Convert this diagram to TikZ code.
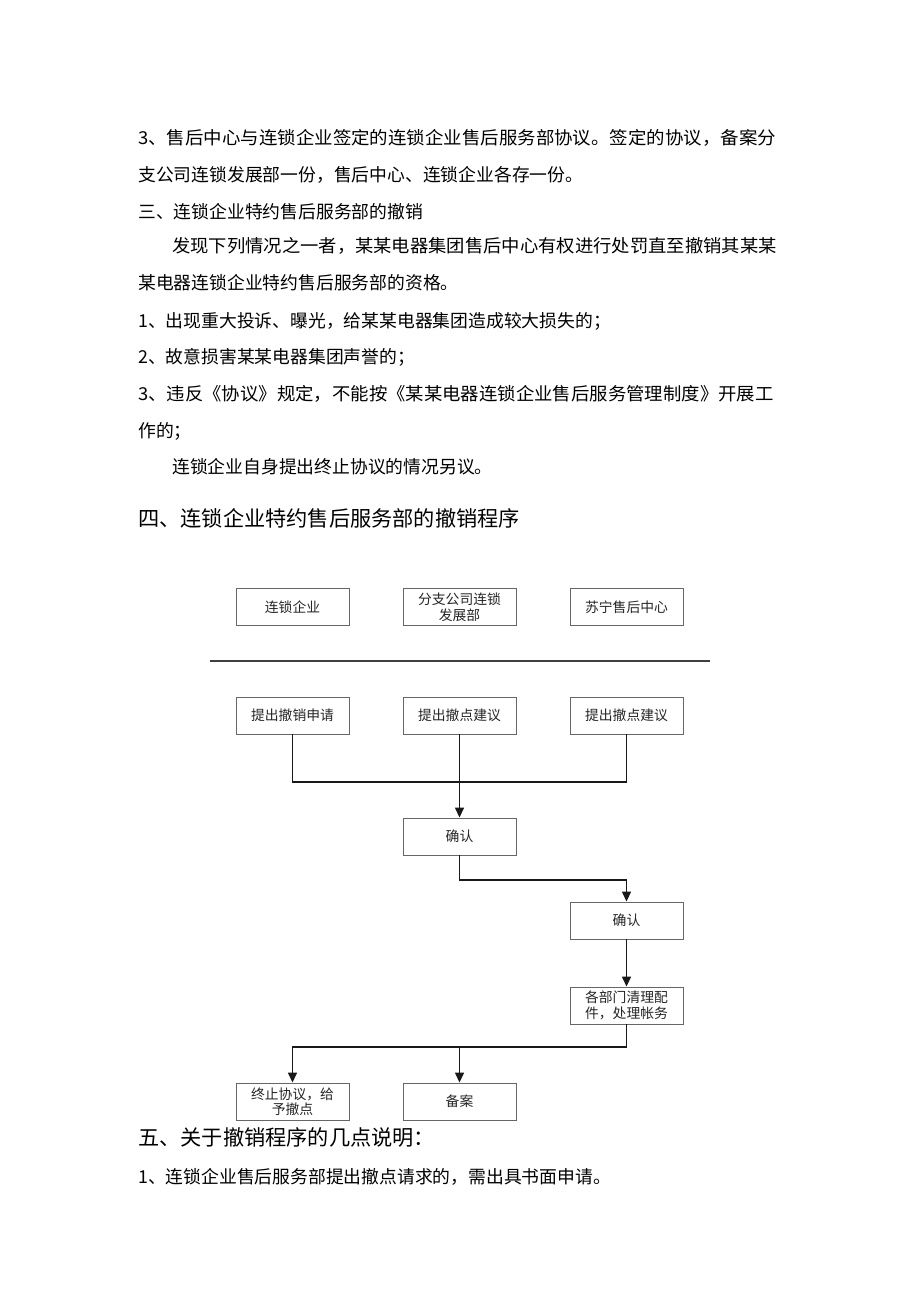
\documentclass[tikz,border=0pt]{standalone}
\usepackage{fontspec}
\usepackage{graphicx}
\newfontfamily\zh{Noto Sans CJK SC}
\usetikzlibrary{arrows.meta}
\begin{document}
\begin{tikzpicture}[x=1pt,y=1pt,
  txt/.style={anchor=west,inner sep=0,font=\zh\fontsize{17.8}{20}\selectfont},
  head/.style={anchor=west,inner sep=0,font=\zh\fontsize{21.2}{24}\selectfont},
  box/.style={draw=black!60,line width=0.9pt,minimum width=113pt,minimum height=37pt,inner sep=1pt,align=center,text=black!85,font=\zh\fontsize{13.8}{15.5}\selectfont},
  conn/.style={line width=1.4pt,draw=black!90},
  arr/.style={conn,-{Triangle[length=10pt,width=9pt]}}]
\fill[white] (0,0) rectangle (920,-1301);
\useasboundingbox (0,0) rectangle (920,-1301);
% text above
\node[txt] (t1) at (138,-138) {\scalebox{1.037}[1]{3、售后中心与连锁企业签定的连锁企业售后服务部协议。签定的协议，备案分}};
\node[txt] (t2) at (138,-175) {支公司连锁发展部一份，售后中心、连锁企业各存一份。};
\node[txt] (t3) at (138,-212) {三、连锁企业特约售后服务部的撤销};
\node[txt] (t4) at (172,-246) {\scalebox{1.029}[1]{发现下列情况之一者，某某电器集团售后中心有权进行处罚直至撤销其某某}};
\node[txt] (t5) at (138,-283) {某电器连锁企业特约售后服务部的资格。};
\node[txt] (t6) at (138,-321) {1、出现重大投诉、曝光，给某某电器集团造成较大损失的；};
\node[txt] (t7) at (138,-357) {2、故意损害某某电器集团声誉的；};
\node[txt] (t8) at (138,-394) {\scalebox{1.033}[1]{3、违反《协议》规定，不能按《某某电器连锁企业售后服务管理制度》开展工}};
\node[txt] (t9) at (138,-431) {作的；};
\node[txt] (t10) at (172,-467) {连锁企业自身提出终止协议的情况另议。};
\node[head] (h4) at (138,-518) {四、连锁企业特约售后服务部的撤销程序};
% diagram
\node[box] (a1) at (292.5,-607) {连锁企业};
\node[box] (a2) at (459.5,-607) {分支公司连锁\\发展部};
\node[box] (a3) at (626.5,-607) {苏宁售后中心};
\coordinate (rl) at (210,-661);
\coordinate (rr) at (710,-661);
\draw[line width=1.8pt,black!75] (rl) -- (rr);
\node[box] (b1) at (292.5,-715.5) {提出撤销申请};
\node[box] (b2) at (459.5,-715.5) {提出撤点建议};
\node[box] (b3) at (626.5,-715.5) {提出撤点建议};
\node[box] (c1) at (459.5,-836.5) {确认};
\node[box] (c2) at (626.5,-920.5) {确认};
\node[box] (d1) at (626.5,-1005.5) {各部门清理配\\件，处理帐务};
\node[box] (e1) at (292.5,-1101.5) {终止协议，给\\予撤点};
\node[box] (e2) at (459.5,-1101.5) {备案};
\coordinate (m1) at (459.5,-782);
\coordinate (m2) at (459.5,-880);
\coordinate (m3) at (459.5,-1047);
\draw[conn] (b1.south) |- (m1) -| (b3.south);
\draw[arr] (b2.south) -- (c1.north);
\draw[arr] (c1.south) -- (m2) -| (c2.north);
\draw[arr] (c2.south) -- (d1.north);
\draw[arr] (d1.south) |- (m3) -| (e1.north);
\draw[arr] (m3) -- (e2.north);
% text below
\node[head] (h5) at (138,-1137) {五、关于撤销程序的几点说明：};
\node[txt] (t11) at (138,-1177) {1、连锁企业售后服务部提出撤点请求的，需出具书面申请。};
\end{tikzpicture}
\end{document}
